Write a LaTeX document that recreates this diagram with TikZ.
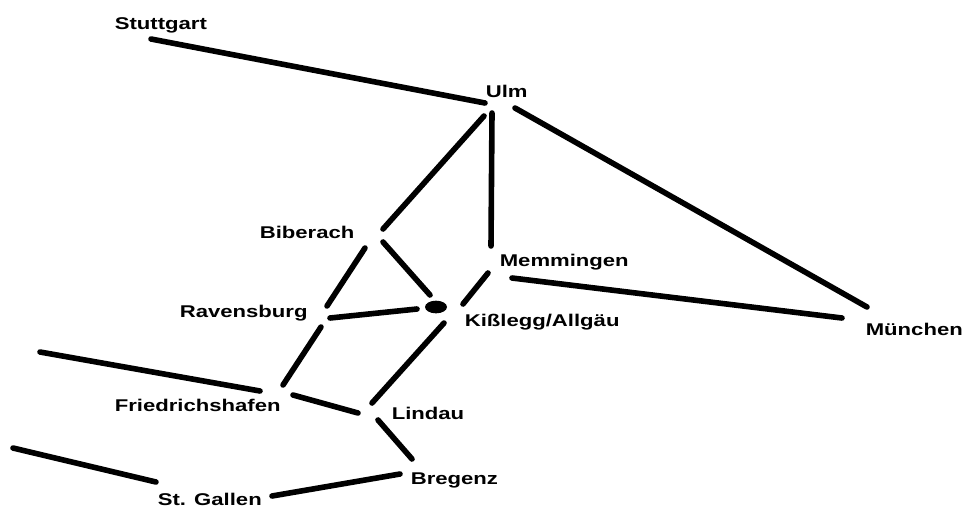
\documentclass[tikz,border=0pt]{standalone}
\usepackage{fontspec}
\setmainfont{Liberation Sans}[FakeStretch=1.3]
\usetikzlibrary{shapes.geometric}

\begin{document}
\begin{tikzpicture}[x=0.75pt,y=-0.75pt,line width=4.2pt,line cap=round,
    city/.style={anchor=base west,inner sep=0pt,font=\bfseries\fontsize{12.75}{15}\selectfont}]
    \useasboundingbox (0,0) rectangle (964,508);
    % staedte
    \node[city] (stuttgart) at (112,29) {Stuttgart};
    \node[city] (ulm) at (483,97) {Ulm};
    \node[city] (biberach) at (257,238) {Biberach};
    \node[city] (memmingen) at (497,266) {Memmingen};
    \node[city] (ravensburg) at (177,317) {Ravensburg};
    \node[city] (kisslegg) at (462,326) {Kißlegg/Allgäu};
    \node[city] (muenchen) at (863,335) {München};
    \node[city] (friedrichshafen) at (112,411) {Friedrichshafen};
    \node[city] (lindau) at (389,419) {Lindau};
    \node[city] (bregenz) at (408,484) {Bregenz};
    \node[city] (stgallen) at (155,505) {St. Gallen};
    \node[ellipse,fill,inner sep=0pt,minimum width=16.5pt,minimum height=9.5pt] (kdot) at (436,307) {};
    % enden der strecken
    \coordinate (s1) at (151,39);  \coordinate (u1) at (485,103);
    \coordinate (u2) at (484,116); \coordinate (b1) at (383,229);
    \coordinate (u3) at (492,113); \coordinate (m1) at (491,246);
    \coordinate (u4) at (515,108); \coordinate (mu1) at (867,307);
    \coordinate (m2) at (512,278); \coordinate (mu2) at (842,318);
    \coordinate (b2) at (365,248); \coordinate (r1) at (327,306);
    \coordinate (b3) at (383,242); \coordinate (k1) at (430,295);
    \coordinate (r2) at (330,318); \coordinate (k2) at (417,309);
    \coordinate (m3) at (488,273); \coordinate (k3) at (463,304);
    \coordinate (k4) at (444,323); \coordinate (l1) at (372,403);
    \coordinate (r3) at (321,327); \coordinate (f1) at (283,385);
    \coordinate (west1) at (40,352); \coordinate (f2) at (260,391);
    \coordinate (f3) at (293,395); \coordinate (l2) at (358,413);
    \coordinate (l3) at (378,420); \coordinate (br1) at (412,459);
    \coordinate (br2) at (400,474); \coordinate (sg1) at (272,496);
    \coordinate (west2) at (13,448); \coordinate (sg2) at (156,482);
    % strecken
    \draw (s1) -- (u1) (u2) -- (b1) (u3) -- (m1) (u4) -- (mu1) (m2) -- (mu2);
    \draw (b2) -- (r1) (b3) -- (k1) (r2) -- (k2) (m3) -- (k3) (k4) -- (l1);
    \draw (r3) -- (f1) (west1) -- (f2) (f3) -- (l2) (l3) -- (br1) (br2) -- (sg1) (west2) -- (sg2);
\end{tikzpicture}
\end{document}
